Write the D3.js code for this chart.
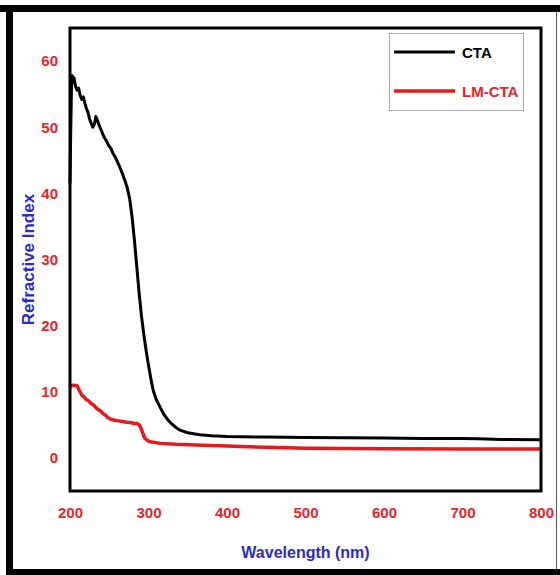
<!DOCTYPE html>
<html lang="en">
<head>
<meta charset="UTF-8">
<title>Refractive Index</title>
<script src="https://cdn.jsdelivr.net/npm/d3@7"></script>
<style>
  body { margin: 0; background: #fff; }
  text { font-family: "Liberation Sans", Arial, sans-serif; font-weight: bold; }
</style>
</head>
<body>
<script>
// data
var ctaWl = [200, 201, 202, 203, 204, 205, 207, 209, 211, 213, 215, 217, 219, 221, 223, 225, 227, 229, 231, 233, 235, 237, 240, 243, 246, 249, 252, 255, 258, 261, 264, 267, 270, 273, 276, 279, 282, 285, 288, 291, 294, 297, 300, 303, 306, 310, 315, 320, 325, 330, 335, 340, 350, 365, 380, 400, 450, 500, 550, 600, 650, 700, 720, 750, 800];
var ctaRI = [41.5, 50, 56.5, 57.8, 56.8, 57.5, 56.2, 55.6, 55.9, 54.8, 54.2, 54.6, 53.6, 52.8, 52.2, 51.2, 50.6, 50.0, 50.4, 51.6, 51.0, 50.3, 49.5, 48.6, 48.0, 47.3, 46.8, 46.0, 45.4, 44.6, 43.8, 42.9, 41.9, 40.8, 39.2, 36.5, 33, 29, 25, 21.5, 18.7, 16.2, 14, 12, 10.2, 8.8, 7.6, 6.5, 5.7, 5.1, 4.6, 4.2, 3.8, 3.5, 3.35, 3.25, 3.15, 3.1, 3.05, 3.0, 2.95, 2.95, 2.9, 2.8, 2.75];

var lmWl = [200, 201, 205, 209, 212, 215, 218, 221, 224, 227, 230, 233, 236, 239, 242, 245, 248, 251, 254, 257, 262, 267, 272, 277, 282, 286, 288, 290, 292, 294, 296, 299, 304, 315, 335, 360, 400, 450, 500, 600, 700, 800];
var lmRI = [10.6, 10.9, 11.0, 10.9, 10.2, 9.5, 9.2, 8.8, 8.6, 8.2, 8.0, 7.6, 7.3, 7.1, 6.7, 6.5, 6.1, 5.9, 5.8, 5.7, 5.6, 5.5, 5.4, 5.35, 5.2, 5.2, 5.0, 4.6, 4.0, 3.3, 2.9, 2.6, 2.4, 2.2, 2.05, 1.95, 1.8, 1.6, 1.45, 1.4, 1.35, 1.35];

var xTicks = [200, 300, 400, 500, 600, 700, 800];
var yTicks = [0, 10, 20, 30, 40, 50, 60];
var seriesNames = ['CTA', 'LM-CTA'];

var w = 560, h = 575;
var plotLeft = 70, plotRight = 541, plotTop = 28, plotBottom = 491;
var red = '#e3262b', blue = '#2b2bc8';

var svg = d3.select('body').append('svg')
  .attr('width', w)
  .attr('height', h);

// outer frame of the picture
svg.append('line').attr('x1', 0).attr('x2', w).attr('y1', 8.5).attr('y2', 8.5)
  .attr('stroke', '#000').attr('stroke-width', 7);
svg.append('line').attr('x1', 9.5).attr('x2', 9.5).attr('y1', 5).attr('y2', h)
  .attr('stroke', '#000').attr('stroke-width', 7);
svg.append('line').attr('x1', 6).attr('x2', w).attr('y1', 572).attr('y2', 572)
  .attr('stroke', '#000').attr('stroke-width', 6);
svg.append('line').attr('x1', 556.5).attr('x2', 556.5).attr('y1', 12).attr('y2', 569)
  .attr('stroke', '#555').attr('stroke-width', 1);

var x = d3.scaleLinear().domain([200, 800]).range([plotLeft, plotRight]);
var y = d3.scaleLinear().domain([-5, 65]).range([plotBottom, plotTop]);

var line = d3.line()
  .x(function (d) { return x(d[0]); })
  .y(function (d) { return y(d[1]); })
  .curve(d3.curveLinear);

var ctaData = ctaWl.map(function (d, i) { return [d, ctaRI[i]]; });
var lmData = lmWl.map(function (d, i) { return [d, lmRI[i]]; });

svg.append('path').datum(lmData)
  .attr('d', line)
  .attr('fill', 'none')
  .attr('stroke', '#e41a1c')
  .attr('stroke-width', 3.5)
  .attr('stroke-linejoin', 'round');

svg.append('path').datum(ctaData)
  .attr('d', line)
  .attr('fill', 'none')
  .attr('stroke', '#000')
  .attr('stroke-width', 3)
  .attr('stroke-linejoin', 'round');

// axes: labels only, no tick marks
var xAxis = d3.axisBottom(x).tickValues(xTicks).tickSize(0).tickPadding(16);
var yAxis = d3.axisLeft(y).tickValues(yTicks).tickSize(0).tickPadding(12);

var gx = svg.append('g')
  .attr('transform', 'translate(0,' + plotBottom + ')')
  .call(xAxis);
gx.select('.domain').remove();
gx.selectAll('text').attr('fill', red).attr('font-size', 15)
  .style('font-family', '"Liberation Sans", Arial, sans-serif').style('font-weight', 'bold');

var gy = svg.append('g')
  .attr('transform', 'translate(' + plotLeft + ',0)')
  .call(yAxis);
gy.select('.domain').remove();
gy.selectAll('text').attr('fill', red).attr('font-size', 15)
  .style('font-family', '"Liberation Sans", Arial, sans-serif').style('font-weight', 'bold');

// plot frame
svg.append('rect')
  .attr('x', plotLeft).attr('y', plotTop)
  .attr('width', plotRight - plotLeft).attr('height', plotBottom - plotTop)
  .attr('fill', 'none')
  .attr('stroke', '#000')
  .attr('stroke-width', 3);

// axis titles
svg.append('text')
  .attr('x', (plotLeft + plotRight) / 2)
  .attr('y', 558)
  .attr('text-anchor', 'middle')
  .attr('font-size', 16)
  .attr('fill', blue)
  .text('Wavelength (nm)');

svg.append('text')
  .attr('transform', 'translate(34,' + (plotTop + plotBottom) / 2 + ') rotate(-90)')
  .attr('text-anchor', 'middle')
  .attr('font-size', 17)
  .attr('fill', blue)
  .text('Refractive Index');

// legend
var legend = svg.append('g');
legend.append('rect')
  .attr('x', 389.5).attr('y', 33.5)
  .attr('width', 134).attr('height', 77)
  .attr('fill', '#fff')
  .attr('stroke', '#aaa')
  .attr('stroke-width', 1);

var legendColors = ['#000', '#e41a1c'];
var legendText = ['#000', red];
seriesNames.forEach(function (name, i) {
  var ly = 52 + i * 39;
  legend.append('line')
    .attr('x1', 394).attr('x2', 455)
    .attr('y1', ly).attr('y2', ly)
    .attr('stroke', legendColors[i])
    .attr('stroke-width', i === 0 ? 3 : 3.5);
  legend.append('text')
    .attr('x', 462).attr('y', ly + 6)
    .attr('font-size', 15)
    .attr('fill', legendText[i])
    .text(name);
});
</script>
</body>
</html>
